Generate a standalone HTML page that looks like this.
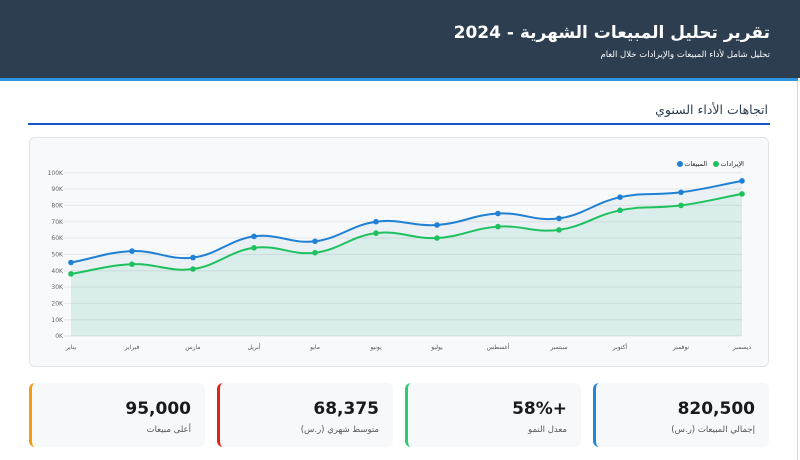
<!DOCTYPE html>
<html lang="ar" dir="rtl">
<head>
<meta charset="utf-8">
<style>
  html,body{margin:0;padding:0;background:#fff;}
  body{width:800px;height:460px;position:relative;overflow:hidden;font-family:"DejaVu Sans","Liberation Sans","Noto Sans CJK SC",sans-serif;}
  .hdr{position:absolute;left:0;top:0;width:800px;height:78px;background:#2c3e50;}
  .hdrline{position:absolute;left:0;top:78px;width:798px;height:3px;background:#2f94e0;}
  .title{position:absolute;right:30px;top:20px;color:#fff;font-weight:bold;font-size:17px;white-space:nowrap;direction:rtl;line-height:26px;}
  .sub{position:absolute;right:30px;top:48px;color:#fff;font-size:8.5px;white-space:nowrap;direction:rtl;line-height:14px;}
  .vline{position:absolute;left:797px;top:81px;width:1px;height:379px;background:#d6d9dc;}
  .sec{position:absolute;right:32px;top:101px;color:#2c3e50;font-size:12.5px;white-space:nowrap;direction:rtl;line-height:18px;}
  .secline{position:absolute;left:28px;top:123px;width:742px;height:2px;background:#1255c8;}
  .chartbox{position:absolute;left:29px;top:137px;width:738px;height:228px;background:#f8f9fa;border:1px solid #dfe3e6;border-radius:6px;}
  .card{position:absolute;top:383px;height:64px;width:176px;background:#f7f8fa;border-radius:6px;box-sizing:border-box;}
  .card .num{position:absolute;right:14px;top:15px;font-weight:bold;font-size:17px;color:#1a1a1a;white-space:nowrap;direction:ltr;line-height:22px;}
  .card .lbl{position:absolute;right:14px;top:41px;font-size:8.5px;color:#555;white-space:nowrap;direction:rtl;line-height:12px;}
  svg{position:absolute;left:0;top:0;direction:ltr;}
</style>
</head>
<body>
<div class="hdr"></div>
<div class="hdrline"></div>
<div class="title">تقرير تحليل المبيعات الشهرية - 2024</div>
<div class="sub">تحليل شامل لأداء المبيعات والإيرادات خلال العام</div>
<div class="vline"></div>

<div class="sec">اتجاهات الأداء السنوي</div>
<div class="secline"></div>

<div class="chartbox"></div>

<svg width="800" height="460" viewBox="0 0 800 460" xmlns="http://www.w3.org/2000/svg" direction="ltr">
  <!-- fills -->
  <path d="M71,262.5 C95.4,257.9 107.6,252.1 132,251.1 C156.4,250.1 168.6,260.5 193,257.6 C217.4,254.7 229.6,239.7 254,236.4 C278.4,233.1 290.6,244.2 315,241.3 C339.4,238.4 351.6,225.0 376,221.7 C400.4,218.4 412.6,226.6 437,225.0 C461.4,223.4 473.6,214.8 498,213.5 C522.4,212.2 534.6,221.7 559,218.4 C583.4,215.1 595.6,202.4 620,197.2 C644.4,192.0 656.6,195.6 681,192.3 C705.4,189.0 717.6,185.5 742,180.9 L742,336 L71,336 Z" fill="#ebf0f5"/>
  <path d="M71,273.9 C95.4,270.0 107.6,265.2 132,264.2 C156.4,263.2 168.6,272.3 193,269.0 C217.4,265.7 229.6,251.1 254,247.8 C278.4,244.5 290.6,255.6 315,252.7 C339.4,249.8 351.6,236.0 376,233.1 C400.4,230.2 412.6,239.3 437,238.0 C461.4,236.7 473.6,228.2 498,226.6 C522.4,225.0 534.6,233.2 559,229.9 C583.4,226.6 595.6,215.2 620,210.3 C644.4,205.4 656.6,208.7 681,205.4 C705.4,202.1 717.6,198.5 742,193.9 L742,336 L71,336 Z" fill="#d9edea"/>
  <!-- grid -->
  <g stroke="rgba(0,0,0,0.07)" stroke-width="1">
    <line x1="64" y1="172.7" x2="742" y2="172.7"/>
    <line x1="64" y1="189.0" x2="742" y2="189.0"/>
    <line x1="64" y1="205.4" x2="742" y2="205.4"/>
    <line x1="64" y1="221.7" x2="742" y2="221.7"/>
    <line x1="64" y1="238.0" x2="742" y2="238.0"/>
    <line x1="64" y1="254.4" x2="742" y2="254.4"/>
    <line x1="64" y1="270.7" x2="742" y2="270.7"/>
    <line x1="64" y1="287.0" x2="742" y2="287.0"/>
    <line x1="64" y1="303.4" x2="742" y2="303.4"/>
    <line x1="64" y1="319.7" x2="742" y2="319.7"/>
    <line x1="64" y1="336" x2="742" y2="336"/>
  </g>
  <!-- y labels -->
  <g font-family="DejaVu Sans, Liberation Sans, sans-serif" font-size="6" fill="#666" text-anchor="end" direction="ltr">
    <text x="63" y="174.8">100K</text>
    <text x="63" y="191.1">90K</text>
    <text x="63" y="207.5">80K</text>
    <text x="63" y="223.8">70K</text>
    <text x="63" y="240.1">60K</text>
    <text x="63" y="256.5">50K</text>
    <text x="63" y="272.8">40K</text>
    <text x="63" y="289.1">30K</text>
    <text x="63" y="305.5">20K</text>
    <text x="63" y="321.8">10K</text>
    <text x="63" y="338.1">0K</text>
  </g>
  <!-- x labels -->
  <g font-family="DejaVu Sans, Liberation Sans, sans-serif" font-size="6" fill="#555" text-anchor="middle">
    <text x="71" y="349">يناير</text>
    <text x="132" y="349">فبراير</text>
    <text x="193" y="349">مارس</text>
    <text x="254" y="349">أبريل</text>
    <text x="315" y="349">مايو</text>
    <text x="376" y="349">يونيو</text>
    <text x="437" y="349">يوليو</text>
    <text x="498" y="349">أغسطس</text>
    <text x="559" y="349">سبتمبر</text>
    <text x="620" y="349">أكتوبر</text>
    <text x="681" y="349">نوفمبر</text>
    <text x="742" y="349">ديسمبر</text>
  </g>
  <!-- lines -->
  <path d="M71,262.5 C95.4,257.9 107.6,252.1 132,251.1 C156.4,250.1 168.6,260.5 193,257.6 C217.4,254.7 229.6,239.7 254,236.4 C278.4,233.1 290.6,244.2 315,241.3 C339.4,238.4 351.6,225.0 376,221.7 C400.4,218.4 412.6,226.6 437,225.0 C461.4,223.4 473.6,214.8 498,213.5 C522.4,212.2 534.6,221.7 559,218.4 C583.4,215.1 595.6,202.4 620,197.2 C644.4,192.0 656.6,195.6 681,192.3 C705.4,189.0 717.6,185.5 742,180.9" fill="none" stroke="#1f80d4" stroke-width="2"/>
  <path d="M71,273.9 C95.4,270.0 107.6,265.2 132,264.2 C156.4,263.2 168.6,272.3 193,269.0 C217.4,265.7 229.6,251.1 254,247.8 C278.4,244.5 290.6,255.6 315,252.7 C339.4,249.8 351.6,236.0 376,233.1 C400.4,230.2 412.6,239.3 437,238.0 C461.4,236.7 473.6,228.2 498,226.6 C522.4,225.0 534.6,233.2 559,229.9 C583.4,226.6 595.6,215.2 620,210.3 C644.4,205.4 656.6,208.7 681,205.4 C705.4,202.1 717.6,198.5 742,193.9" fill="none" stroke="#1fc15f" stroke-width="2"/>
  <!-- points -->
  <g fill="#1f80d4">
    <circle cx="71" cy="262.5" r="2.8"/><circle cx="132" cy="251.1" r="2.8"/><circle cx="193" cy="257.6" r="2.8"/><circle cx="254" cy="236.4" r="2.8"/><circle cx="315" cy="241.3" r="2.8"/><circle cx="376" cy="221.7" r="2.8"/><circle cx="437" cy="225.0" r="2.8"/><circle cx="498" cy="213.5" r="2.8"/><circle cx="559" cy="218.4" r="2.8"/><circle cx="620" cy="197.2" r="2.8"/><circle cx="681" cy="192.3" r="2.8"/><circle cx="742" cy="180.9" r="2.8"/>
  </g>
  <g fill="#1fc15f">
    <circle cx="71" cy="273.9" r="2.8"/><circle cx="132" cy="264.2" r="2.8"/><circle cx="193" cy="269.0" r="2.8"/><circle cx="254" cy="247.8" r="2.8"/><circle cx="315" cy="252.7" r="2.8"/><circle cx="376" cy="233.1" r="2.8"/><circle cx="437" cy="238.0" r="2.8"/><circle cx="498" cy="226.6" r="2.8"/><circle cx="559" cy="229.9" r="2.8"/><circle cx="620" cy="210.3" r="2.8"/><circle cx="681" cy="205.4" r="2.8"/><circle cx="742" cy="193.9" r="2.8"/>
  </g>
  <!-- legend -->
  <circle cx="680" cy="164" r="3" fill="#1f80d4"/>
  <text x="707" y="166" font-family="DejaVu Sans, Liberation Sans, sans-serif" font-size="6.5" fill="#222" text-anchor="end" direction="ltr">المبيعات</text>
  <circle cx="716" cy="164" r="3" fill="#1fc15f"/>
  <text x="744" y="166" font-family="DejaVu Sans, Liberation Sans, sans-serif" font-size="6.5" fill="#222" text-anchor="end" direction="ltr">الإيرادات</text>
</svg>

<div class="card" style="left:29px;border-left:3px solid #f39c12;">
  <div class="num">95,000</div>
  <div class="lbl">أعلى مبيعات</div>
</div>
<div class="card" style="left:217px;border-left:3px solid #e0261c;">
  <div class="num">68,375</div>
  <div class="lbl">متوسط شهري (ر.س)</div>
</div>
<div class="card" style="left:405px;border-left:3px solid #2ecc71;">
  <div class="num">58%+</div>
  <div class="lbl">معدل النمو</div>
</div>
<div class="card" style="left:593px;border-left:3px solid #2386d8;">
  <div class="num">820,500</div>
  <div class="lbl">إجمالي المبيعات (ر.س)</div>
</div>
</body>
</html>
